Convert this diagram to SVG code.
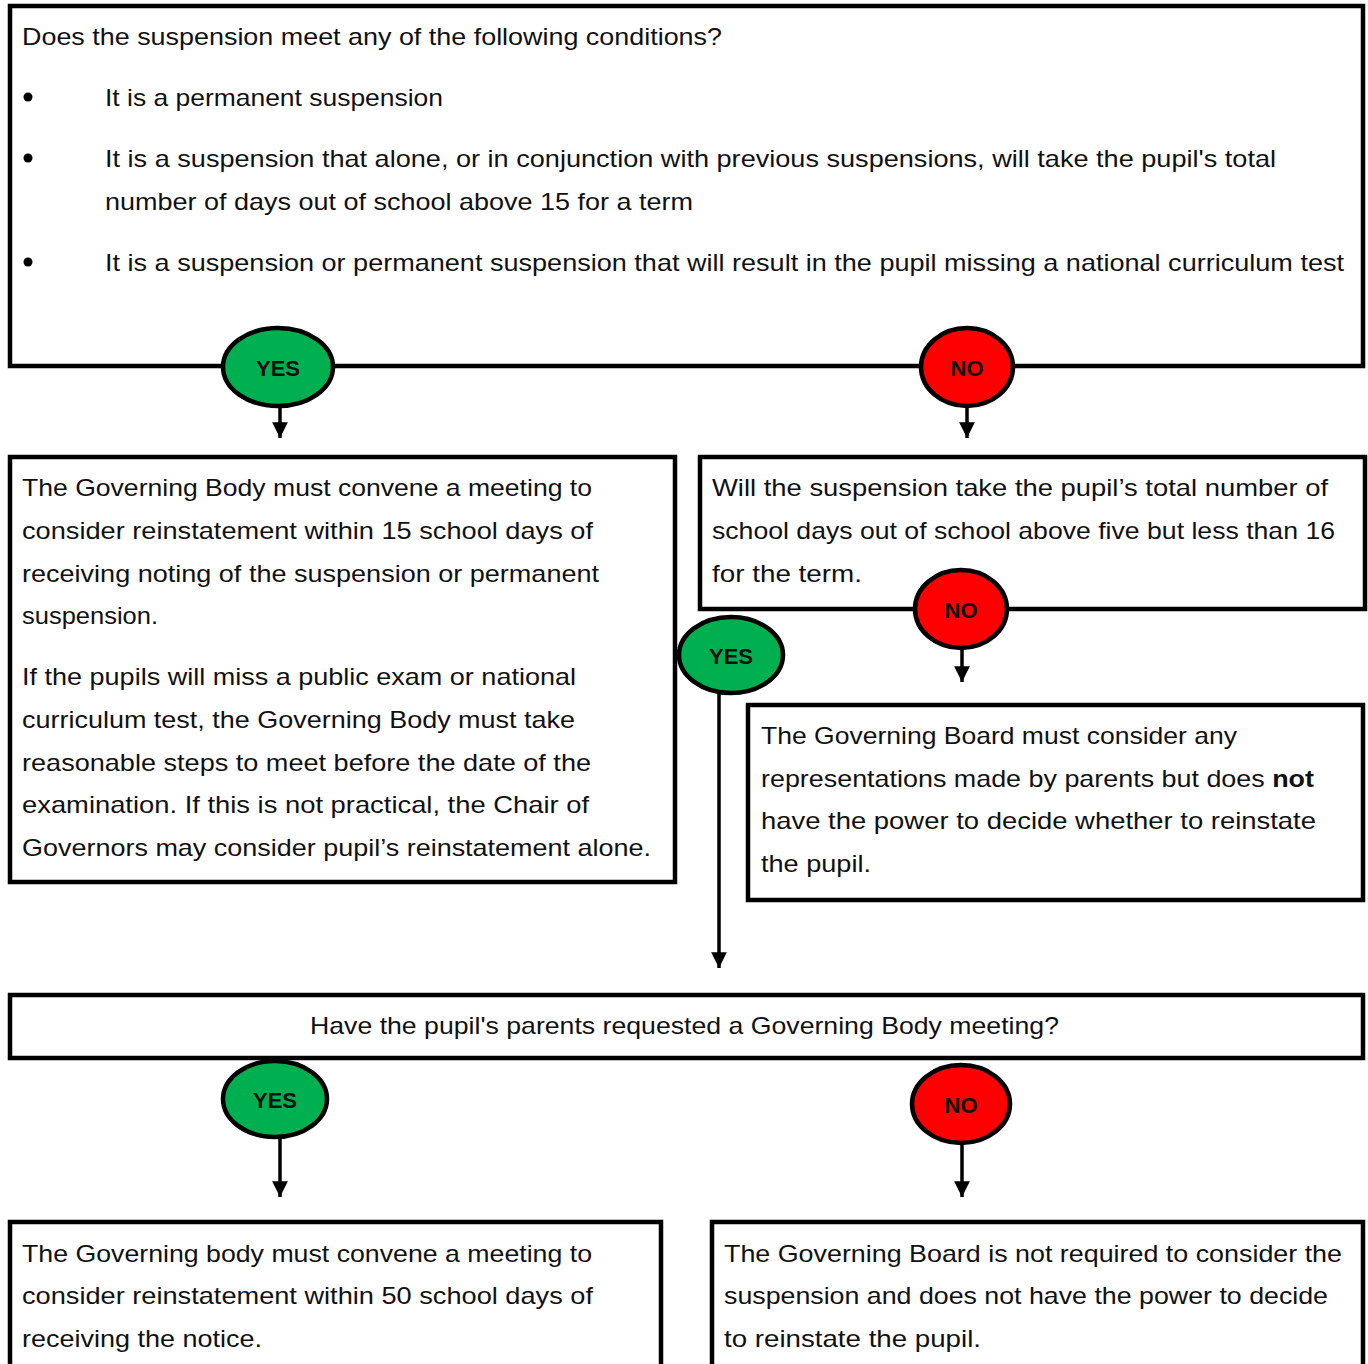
<svg xmlns="http://www.w3.org/2000/svg" width="1368" height="1364" viewBox="0 0 1368 1364">
<defs>
<style>
.box{fill:#fff;stroke:#000;stroke-width:4.5}
.t{font-family:"Liberation Sans",Arial,sans-serif;font-size:24px;fill:#111}
.yes{fill:#00b050;stroke:#000;stroke-width:4.5}
.no{fill:#ff0000;stroke:#000;stroke-width:4.5}
.lbl{font-family:"Liberation Sans",Arial,sans-serif;font-size:22px;font-weight:bold;fill:#111;text-anchor:middle}
.conn{stroke:#000;stroke-width:3.5;fill:none}
</style>
<marker id="ah" viewBox="0 0 10 10" refX="10" refY="5" markerWidth="4.5" markerHeight="4.5" orient="auto" markerUnits="strokeWidth">
<path d="M0,0 L10,5 L0,10 z" fill="#000"/>
</marker>
</defs>
<rect width="1368" height="1364" fill="#fff"/>

<g id="connectors">
<path class="conn" d="M280,405 V438" marker-end="url(#ah)"/>
<path class="conn" d="M967,405 V438" marker-end="url(#ah)"/>
<path class="conn" d="M962,648 V682" marker-end="url(#ah)"/>
<path class="conn" d="M719,692 V968" marker-end="url(#ah)"/>
<path class="conn" d="M280,1137 V1197" marker-end="url(#ah)"/>
<path class="conn" d="M962,1143 V1197" marker-end="url(#ah)"/>
</g>

<g id="q1">
<rect class="box" x="10" y="6" width="1353" height="360"/>
<text class="t" x="22" y="45" textLength="700" lengthAdjust="spacingAndGlyphs">Does the suspension meet any of the following conditions?</text>
<circle cx="28" cy="97" r="4.5" fill="#000"/>
<text class="t" x="105" y="106" textLength="338" lengthAdjust="spacingAndGlyphs">It is a permanent suspension</text>
<circle cx="28" cy="158" r="4.5" fill="#000"/>
<text class="t" x="105" y="167" textLength="1171" lengthAdjust="spacingAndGlyphs">It is a suspension that alone, or in conjunction with previous suspensions, will take the pupil's total</text>
<text class="t" x="105" y="210" textLength="588" lengthAdjust="spacingAndGlyphs">number of days out of school above 15 for a term</text>
<circle cx="28" cy="262" r="4.5" fill="#000"/>
<text class="t" x="105" y="271" textLength="1239" lengthAdjust="spacingAndGlyphs">It is a suspension or permanent suspension that will result in the pupil missing a national curriculum test</text>
</g>

<g id="yes1">
<ellipse class="yes" cx="278" cy="367" rx="55" ry="39"/>
<text class="lbl" x="278" y="376">YES</text>
</g>
<g id="no1">
<ellipse class="no" cx="967" cy="367" rx="46" ry="39"/>
<text class="lbl" x="967" y="376">NO</text>
</g>

<g id="a1">
<rect class="box" x="10" y="457" width="665" height="425"/>
<text class="t" x="22" y="496" textLength="570" lengthAdjust="spacingAndGlyphs">The Governing Body must convene a meeting to</text>
<text class="t" x="22" y="539" textLength="571" lengthAdjust="spacingAndGlyphs">consider reinstatement within 15 school days of</text>
<text class="t" x="22" y="582" textLength="577" lengthAdjust="spacingAndGlyphs">receiving noting of the suspension or permanent</text>
<text class="t" x="22" y="624" textLength="136" lengthAdjust="spacingAndGlyphs">suspension.</text>
<text class="t" x="22" y="685" textLength="554" lengthAdjust="spacingAndGlyphs">If the pupils will miss a public exam or national</text>
<text class="t" x="22" y="728" textLength="553" lengthAdjust="spacingAndGlyphs">curriculum test, the Governing Body must take</text>
<text class="t" x="22" y="771" textLength="569" lengthAdjust="spacingAndGlyphs">reasonable steps to meet before the date of the</text>
<text class="t" x="22" y="813" textLength="567" lengthAdjust="spacingAndGlyphs">examination.  If this is not practical, the Chair of</text>
<text class="t" x="22" y="856" textLength="629" lengthAdjust="spacingAndGlyphs">Governors may consider pupil’s reinstatement alone.</text>
</g>

<g id="q2">
<rect class="box" x="700" y="457" width="665" height="152"/>
<text class="t" x="712" y="496" textLength="616" lengthAdjust="spacingAndGlyphs">Will the suspension take the pupil’s total number of</text>
<text class="t" x="712" y="539" textLength="623" lengthAdjust="spacingAndGlyphs">school days out of school above five but less than 16</text>
<text class="t" x="712" y="582" textLength="150" lengthAdjust="spacingAndGlyphs">for the term.</text>
</g>

<g id="no2">
<ellipse class="no" cx="961" cy="609" rx="46" ry="39"/>
<text class="lbl" x="961" y="618">NO</text>
</g>
<g id="yes2">
<ellipse class="yes" cx="731" cy="655" rx="52" ry="38"/>
<text class="lbl" x="731" y="664">YES</text>
</g>

<g id="a2">
<rect class="box" x="748" y="705" width="615" height="195"/>
<text class="t" x="761" y="744" textLength="476" lengthAdjust="spacingAndGlyphs">The Governing Board must consider any</text>
<text class="t" x="761" y="787" textLength="553" lengthAdjust="spacingAndGlyphs">representations made by parents but does <tspan font-weight="bold">not</tspan></text>
<text class="t" x="761" y="829" textLength="555" lengthAdjust="spacingAndGlyphs">have the power to decide whether to reinstate</text>
<text class="t" x="761" y="872" textLength="110" lengthAdjust="spacingAndGlyphs">the pupil.</text>
</g>

<g id="q3">
<rect class="box" x="10" y="995" width="1353" height="63"/>
<text class="t" x="310" y="1034" textLength="749" lengthAdjust="spacingAndGlyphs">Have the pupil's parents requested a Governing Body meeting?</text>
</g>

<g id="yes3">
<ellipse class="yes" cx="275" cy="1099" rx="52" ry="38"/>
<text class="lbl" x="275" y="1108">YES</text>
</g>
<g id="no3">
<ellipse class="no" cx="961" cy="1104" rx="49" ry="39"/>
<text class="lbl" x="961" y="1113">NO</text>
</g>

<g id="a3">
<rect class="box" x="10" y="1222" width="651" height="160"/>
<text class="t" x="22" y="1262" textLength="570" lengthAdjust="spacingAndGlyphs">The Governing body must convene a meeting to</text>
<text class="t" x="22" y="1304" textLength="571" lengthAdjust="spacingAndGlyphs">consider reinstatement within 50 school days of</text>
<text class="t" x="22" y="1347" textLength="240" lengthAdjust="spacingAndGlyphs">receiving the notice.</text>
</g>

<g id="a4">
<rect class="box" x="712" y="1222" width="651" height="160"/>
<text class="t" x="724" y="1262" textLength="618" lengthAdjust="spacingAndGlyphs">The Governing Board is not required to consider the</text>
<text class="t" x="724" y="1304" textLength="604" lengthAdjust="spacingAndGlyphs">suspension and does not have the power to decide</text>
<text class="t" x="724" y="1347" textLength="257" lengthAdjust="spacingAndGlyphs">to reinstate the pupil.</text>
</g>
</svg>
